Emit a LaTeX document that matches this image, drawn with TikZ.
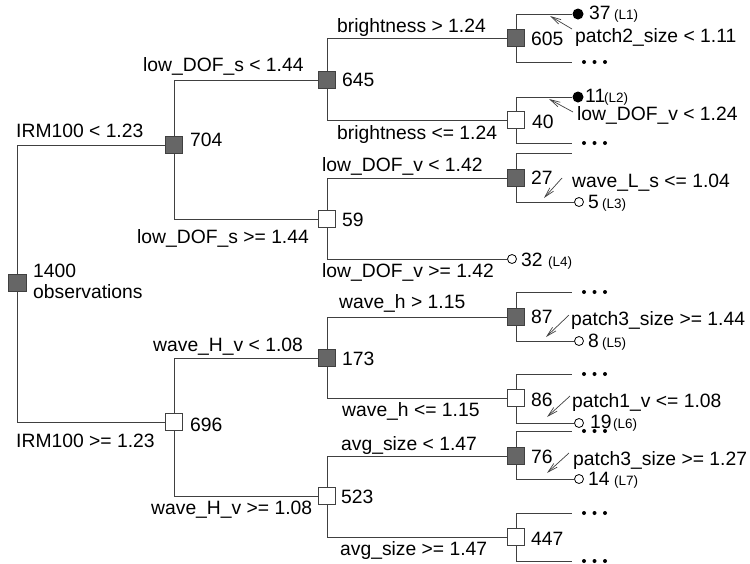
\documentclass[tikz,border=0pt]{standalone}
\usepackage{fontspec}
\setmainfont{Liberation Sans}
\usetikzlibrary{arrows.meta,backgrounds}
\definecolor{linec}{HTML}{404040}
\definecolor{boxfill}{HTML}{666666}
\begin{document}
\begin{tikzpicture}[x=1pt,y=-1pt,
  every node/.style={font=\fontsize{19.3}{21}\selectfont},
  edge/.style={draw=linec, line width=1pt},
  darkbox/.style={draw=linec, fill=boxfill, minimum size=17.5pt, inner sep=0pt, line width=0.8pt},
  whitebox/.style={draw=linec, fill=white, minimum size=17.5pt, inner sep=0pt, line width=0.8pt},
  lbl/.style={anchor=base west, inner sep=0pt},
  tag/.style={anchor=base west, inner sep=0pt, font=\fontsize{13.5}{15}\selectfont},
  fullleaf/.style={circle, fill=black, minimum size=11pt, inner sep=0pt},
  openleaf/.style={circle, draw=black, fill=white, minimum size=9pt, inner sep=0pt, line width=0.8pt},
  arr/.style={draw=linec, line width=0.7pt, -{Straight Barb[length=10pt,width=5pt]}},
]
\useasboundingbox (0,0) rectangle (750,563);

% internal nodes
\node[darkbox]  (root) at (17.5,283) {};
\node[darkbox]  (n704) at (174,145) {};
\node[whitebox] (n696) at (174,422) {};
\node[darkbox]  (n645) at (327,80) {};
\node[whitebox] (n59)  at (327,219) {};
\node[darkbox]  (n173) at (327,358) {};
\node[whitebox] (n523) at (327,496) {};
\node[darkbox]  (n605) at (516,38) {};
\node[whitebox] (n40)  at (516,120) {};
\node[darkbox]  (n27)  at (516,178) {};
\node[darkbox]  (n87)  at (516,317) {};
\node[whitebox] (n86)  at (516,398) {};
\node[darkbox]  (n76)  at (516,456) {};
\node[whitebox] (n447) at (516,537) {};

% leaves
\node[fullleaf] (L1) at (578,14) {};
\node[fullleaf] (L2) at (578,97) {};
\node[openleaf] (L3) at (579,202) {};
\node[openleaf] (L4) at (512,259) {};
\node[openleaf] (L5) at (579,341) {};
\node[openleaf] (L6) at (579,423) {};
\node[openleaf] (L7) at (579,479) {};

% open branch ends
\coordinate (e605) at (572,62);
\coordinate (e40)  at (572,143);
\coordinate (e27)  at (572,153);
\coordinate (e87)  at (572,292);
\coordinate (e86)  at (572,374);
\coordinate (e76)  at (572,431);
\coordinate (e447a) at (572,513);
\coordinate (e447b) at (572,561);

\begin{scope}[on background layer]
\draw[edge] (root.center) |- (n704.west);
\draw[edge] (root.center) |- (n696.west);
\draw[edge] (n704.center) |- (n645.west);
\draw[edge] (n704.center) |- (n59.west);
\draw[edge] (n645.center) |- (n605.west);
\draw[edge] (n645.center) |- (n40.west);
\draw[edge] (n59.center) |- (n27.west);
\draw[edge] (n59.center) |- (L4.west);
\draw[edge] (n696.center) |- (n173.west);
\draw[edge] (n696.center) |- (n523.west);
\draw[edge] (n173.center) |- (n87.west);
\draw[edge] (n173.center) |- (n86.west);
\draw[edge] (n523.center) |- (n76.west);
\draw[edge] (n523.center) |- (n447.west);
\draw[edge] (n605.center) |- (L1.west);
\draw[edge] (n605.center) |- (e605);
\draw[edge] (n40.center) |- (L2.west);
\draw[edge] (n40.center) |- (e40);
\draw[edge] (n27.center) |- (e27);
\draw[edge] (n27.center) |- (L3.west);
\draw[edge] (n87.center) |- (e87);
\draw[edge] (n87.center) |- (L5.west);
\draw[edge] (n86.center) |- (e86);
\draw[edge] (n86.center) |- (L6.west);
\draw[edge] (n76.center) |- (e76);
\draw[edge] (n76.center) |- (L7.west);
\draw[edge] (n447.center) |- (e447a);
\draw[edge] (n447.center) |- (e447b);
\end{scope}

% ellipsis dots
\foreach \e in {e605,e40,e87,e86,e76,e447a,e447b}
  \foreach \dx in {12,22.5,33}
    \fill (\e) ++(\dx,0) circle[radius=2pt];

% arrows
\coordinate (a1s) at (572,29);  \coordinate (a1t) at (550,16);
\coordinate (a2s) at (573,112); \coordinate (a2t) at (549,99);
\coordinate (a3s) at (562,178); \coordinate (a3t) at (544,198);
\coordinate (a5s) at (569,315); \coordinate (a5t) at (546,337);
\coordinate (a6s) at (570,396); \coordinate (a6t) at (547,417);
\coordinate (a7s) at (569,453); \coordinate (a7t) at (547,473);
\draw[arr] (a1s) -- (a1t);
\draw[arr] (a2s) -- (a2t);
\draw[arr] (a3s) -- (a3t);
\draw[arr] (a5s) -- (a5t);
\draw[arr] (a6s) -- (a6t);
\draw[arr] (a7s) -- (a7t);

% labels
\node[lbl] (t1400) at (33,277) {1400};
\node[lbl] (tobs) at (33,298) {observations};
\node[lbl] at (16,137) {IRM100 < 1.23};
\node[lbl] at (16,447) {IRM100 >= 1.23};
\node[lbl] at (190,146) {704};
\node[lbl] at (190,431) {696};
\node[lbl] at (143,71) {low\_DOF\_s < 1.44};
\node[lbl] at (137,243) {low\_DOF\_s >= 1.44};
\node[lbl] at (153,351) {wave\_H\_v < 1.08};
\node[lbl] at (151,514) {wave\_H\_v >= 1.08};
\node[lbl] at (337,32) {brightness > 1.24};
\node[lbl] at (342,86) {645};
\node[lbl] at (337,139) {brightness <= 1.24};
\node[lbl] at (322,171) {low\_DOF\_v < 1.42};
\node[lbl] at (342,226) {59};
\node[lbl] at (322,277) {low\_DOF\_v >= 1.42};
\node[lbl] at (339,308) {wave\_h > 1.15};
\node[lbl] at (342,365) {173};
\node[lbl] at (342,416) {wave\_h <= 1.15};
\node[lbl] at (341,450) {avg\_size < 1.47};
\node[lbl] at (341,503) {523};
\node[lbl] at (340,555) {avg\_size >= 1.47};

\node[lbl] at (531,45) {605};
\node[lbl] at (589,19) {37};
\node[tag] at (614,19) {(L1)};
\node[lbl] at (575,42) {patch2\_size < 1.11};
\node[lbl] at (532,128) {40};
\node[lbl] at (585,102) {11};
\node[tag] at (604,102) {(L2)};
\node[lbl] at (577,120) {low\_DOF\_v < 1.24};
\node[lbl] at (531,184) {27};
\node[lbl] at (572,187) {wave\_L\_s <= 1.04};
\node[lbl] at (588,208) {5};
\node[tag] at (602,208) {(L3)};
\node[lbl] at (521,266) {32};
\node[tag] at (548,266) {(L4)};
\node[lbl] at (531,323) {87};
\node[lbl] at (571,325) {patch3\_size >= 1.44};
\node[lbl] at (588,347) {8};
\node[tag] at (602,347) {(L5)};
\node[lbl] at (531,406) {86};
\node[lbl] at (572,407) {patch1\_v <= 1.08};
\node[lbl] at (590,428) {19};
\node[tag] at (613,428) {(L6)};
\node[lbl] at (531,463) {76};
\node[lbl] at (573,465) {patch3\_size >= 1.27};
\node[lbl] at (588,485) {14};
\node[tag] at (614,485) {(L7)};
\node[lbl] at (531,545) {447};
\end{tikzpicture}
\end{document}
